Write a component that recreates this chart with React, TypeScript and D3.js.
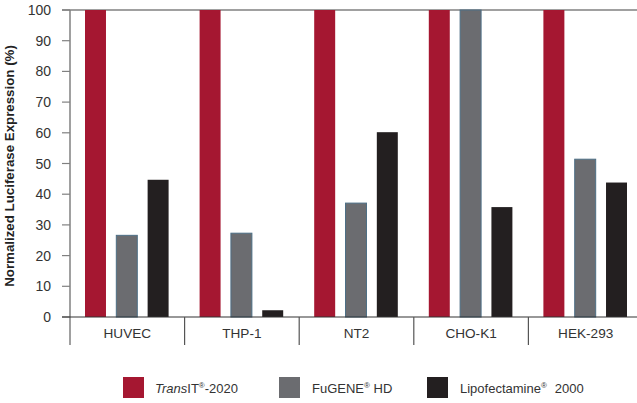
import React from "react";
import * as d3 from "d3";

const categories = ["HUVEC", "THP-1", "NT2", "CHO-K1", "HEK-293"];
const transit = [100, 100, 100, 100, 100];
const fugene = [26.6, 27.3, 37.1, 100, 51.4];
const lipofectamine = [44.7, 2.2, 60.2, 35.8, 43.8];
const yTicks = [0, 10, 20, 30, 40, 50, 60, 70, 80, 90, 100];
const seriesNames = ["transit", "fugene", "lipo"];

const W = 637, H = 403;
const left = 70, top = 10, bottom = 317;
const groupW = 114.6;

export default function App() {
  const y = d3.scaleLinear().domain([0, 100]).range([bottom, top]);
  const x = d3.scaleBand().domain(categories).range([left, left + groupW * categories.length]).padding(0);
  const xi = d3.scaleBand().domain(seriesNames).range([15, 98.6]).paddingInner(0.33).paddingOuter(0);
  const series = [
    { key: "transit", values: transit, fill: "#a51731", stroke: "#a51731" },
    { key: "fugene", values: fugene, fill: "#6b6c70", stroke: "#4d6f86" },
    { key: "lipo", values: lipofectamine, fill: "#231f20", stroke: "#231f20" },
  ];
  const font = "'Liberation Sans', Arial, sans-serif";
  return (
    <svg width={W} height={H} style={{ position: "absolute", left: 0, top: 0, background: "#fff" }} fontFamily={font}>
      {/* top line */}
      <line x1={62} x2={W} y1={top} y2={top} stroke="#808080" strokeWidth={1.5} />
      {/* bars */}
      {series.map((s) =>
        categories.map((c, i) => {
          const x0 = (x(c) as number) + (xi(s.key) as number);
          return (
            <rect key={s.key + c} x={x0} y={y(s.values[i])} width={xi.bandwidth()} height={bottom - y(s.values[i])}
              fill={s.fill} stroke={s.stroke} strokeWidth={s.key === "fugene" ? 1 : 0} />
          );
        })
      )}
      {/* y axis */}
      <line x1={left} x2={left} y1={top} y2={345} stroke="#808080" strokeWidth={1.5} />
      {yTicks.map((t) => (
        <g key={t}>
          <line x1={62} x2={left} y1={y(t)} y2={y(t)} stroke="#808080" strokeWidth={1.2} />
          <text x={51} y={y(t)} dy="0.36em" textAnchor="end" fontSize={14} fill="#333">{t}</text>
        </g>
      ))}
      {/* x axis */}
      <line x1={62} x2={W} y1={bottom} y2={bottom} stroke="#333" strokeWidth={1.2} />
      {categories.map((c, i) => (
        <g key={c}>
          {i > 0 && <line x1={x(c) as number} x2={x(c) as number} y1={bottom} y2={345} stroke="#555" strokeWidth={1.2} />}
          <text x={(x(c) as number) + groupW / 2} y={338} textAnchor="middle" fontSize={13.6} fill="#333">{c}</text>
        </g>
      ))}
      {/* y label */}
      <text transform={`translate(14,166) rotate(-90)`} textAnchor="middle" fontSize={13.3} fontWeight="bold" fill="#222">
        Normalized Luciferase Expression (%)
      </text>
      {/* legend */}
      <rect x={123} y={377} width={21} height={21} fill="#a51731" />
      <text x={155} y={393} fontSize={13} fill="#333">
        <tspan fontStyle="italic">Trans</tspan>IT<tspan fontSize={8} dy={-5}>®</tspan><tspan dy={5}>-2020</tspan>
      </text>
      <rect x={279} y={377} width={21} height={21} fill="#6b6c70" />
      <text x={312} y={393} fontSize={13} fill="#333">
        FuGENE<tspan fontSize={8} dy={-5}>®</tspan><tspan dy={5}> HD</tspan>
      </text>
      <rect x={427} y={377} width={21} height={21} fill="#231f20" />
      <text x={460} y={393} fontSize={13} fill="#333">
        Lipofectamine<tspan fontSize={8} dy={-5}>®</tspan><tspan dy={5} dx={8}>2000</tspan>
      </text>
    </svg>
  );
}
